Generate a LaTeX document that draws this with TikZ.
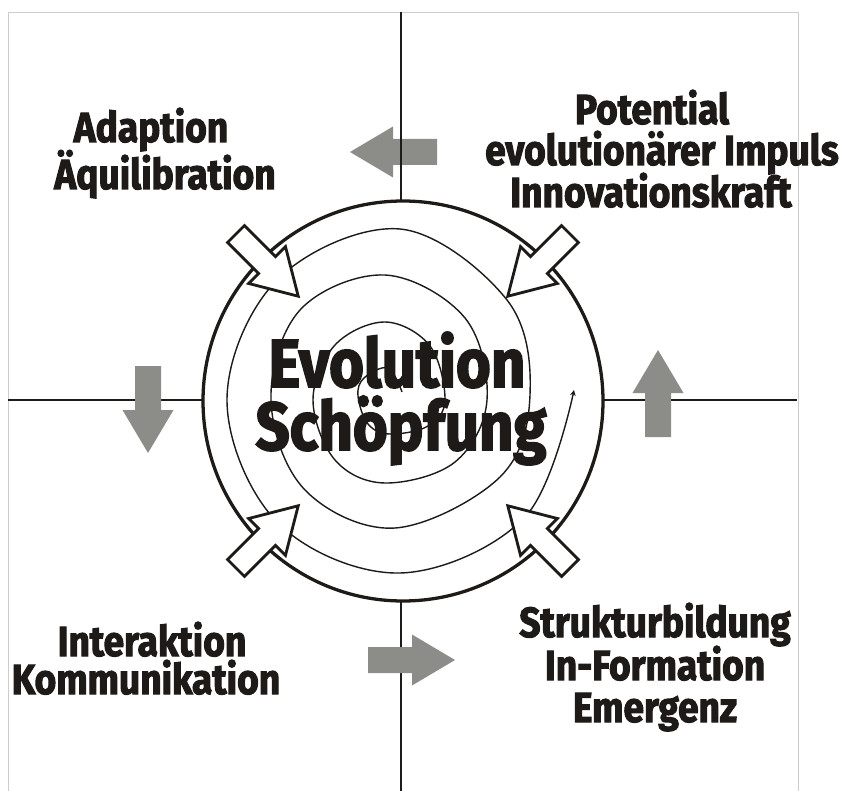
\documentclass[tikz,border=0pt]{standalone}
\usepackage{fontspec}
\newfontfamily\heavyfont[FakeStretch=0.88,FakeBold=2.4]{Fira Sans}
\definecolor{ink}{RGB}{30,26,23}
\definecolor{arrowgray}{RGB}{140,140,136}
\definecolor{framegray}{RGB}{205,205,205}

\tikzset{
  corner/.style={text=ink, anchor=base, inner sep=0pt, font=\heavyfont\bfseries\fontsize{36}{36}\selectfont},
  middle/.style={text=ink, anchor=base, inner sep=0pt, font=\heavyfont\bfseries\fontsize{58}{58}\selectfont},
  inarrow/.pic={
    \filldraw[fill=white, draw=ink, line width=2.4pt, line join=miter]
      (0,-12) -- (44,-12) -- (44,-26) -- (88,0) -- (44,26) -- (44,12) -- (0,12) -- cycle;
  },
  grayarrow/.pic={
    \fill[arrowgray]
      (0,-13) -- (44,-13) -- (44,-25.5) -- (87,0) -- (44,25.5) -- (44,13) -- (0,13) -- cycle;
  },
}

\begin{document}
\begin{tikzpicture}[x=0.03cm, y=-0.03cm]
  \useasboundingbox (0,0) rectangle (842,791);

  % Frame and axes
  \draw[framegray, line width=0.6pt] (8,791) -- (8,12) -- (798,12) -- (798,791);
  \coordinate (top) at (401,12);
  \coordinate (bot) at (401,791);
  \coordinate (lft) at (8,400);
  \coordinate (rgt) at (797,400);
  \coordinate (c) at (403,401);

  % Gray arrow under the axis
  \pic[rotate=180] at (437,152) {grayarrow};

  \draw[ink, line width=2.4pt] (top) -- (bot);
  \draw[ink, line width=2.4pt] (lft) -- (rgt);

  % Circle and spiral
  \filldraw[fill=white, draw=ink, line width=2.8pt] (c) circle[radius=200];
  \draw[ink, line width=1.2pt, -stealth] plot[smooth, tension=0.6] coordinates {
    (402,392) (388,368) (364,378) (358,396) (368,424) (390,434) (428,426) (445,400)
    (430,346) (385,322) (335,345) (313,400) (335,460) (385,483) (455,462) (487,400)
    (465,318) (385,275) (300,310) (271,400) (305,490) (395,528) (500,477) (530,395)
    (507,300) (400,229) (278,279) (227,400) (278,523) (400,573) (525,517) (574,390)
  };

  % White arrows towards the centre
  \pic[rotate=-45] at (236,234) {inarrow};
  \pic[rotate=-135] at (570,234) {inarrow};
  \pic[rotate=45] at (236,568) {inarrow};
  \pic[rotate=135] at (570,568) {inarrow};

  % Gray arrows
  \pic[rotate=90] at (658,437) {grayarrow};
  \pic[rotate=-90] at (148,366) {grayarrow};
  \pic at (368,660) {grayarrow};

  % Labels
  \node[corner] (adapt) at (151,142) {Adaption};
  \node[corner] (aequi) at (165,189) {Äquilibration};
  \node[corner] (poten) at (652,124) {Potential};
  \node[corner] (impuls) at (662,165) {evolutionärer Impuls};
  \node[corner] (innov) at (651,207) {Innovationskraft};
  \node[corner] (inter) at (152,656) {Interaktion};
  \node[corner] (kommu) at (146,694) {Kommunikation};
  \node[corner] (struk) at (655,637) {Strukturbildung};
  \node[corner] (inform) at (655,680) {In-Formation};
  \node[corner] (emerg) at (655,722) {Emergenz};
  \node[middle] (evol) at (397,387) {Evolution};
  \node[middle] (schoep) at (401,450) {Schöpfung};
\end{tikzpicture}
\end{document}
